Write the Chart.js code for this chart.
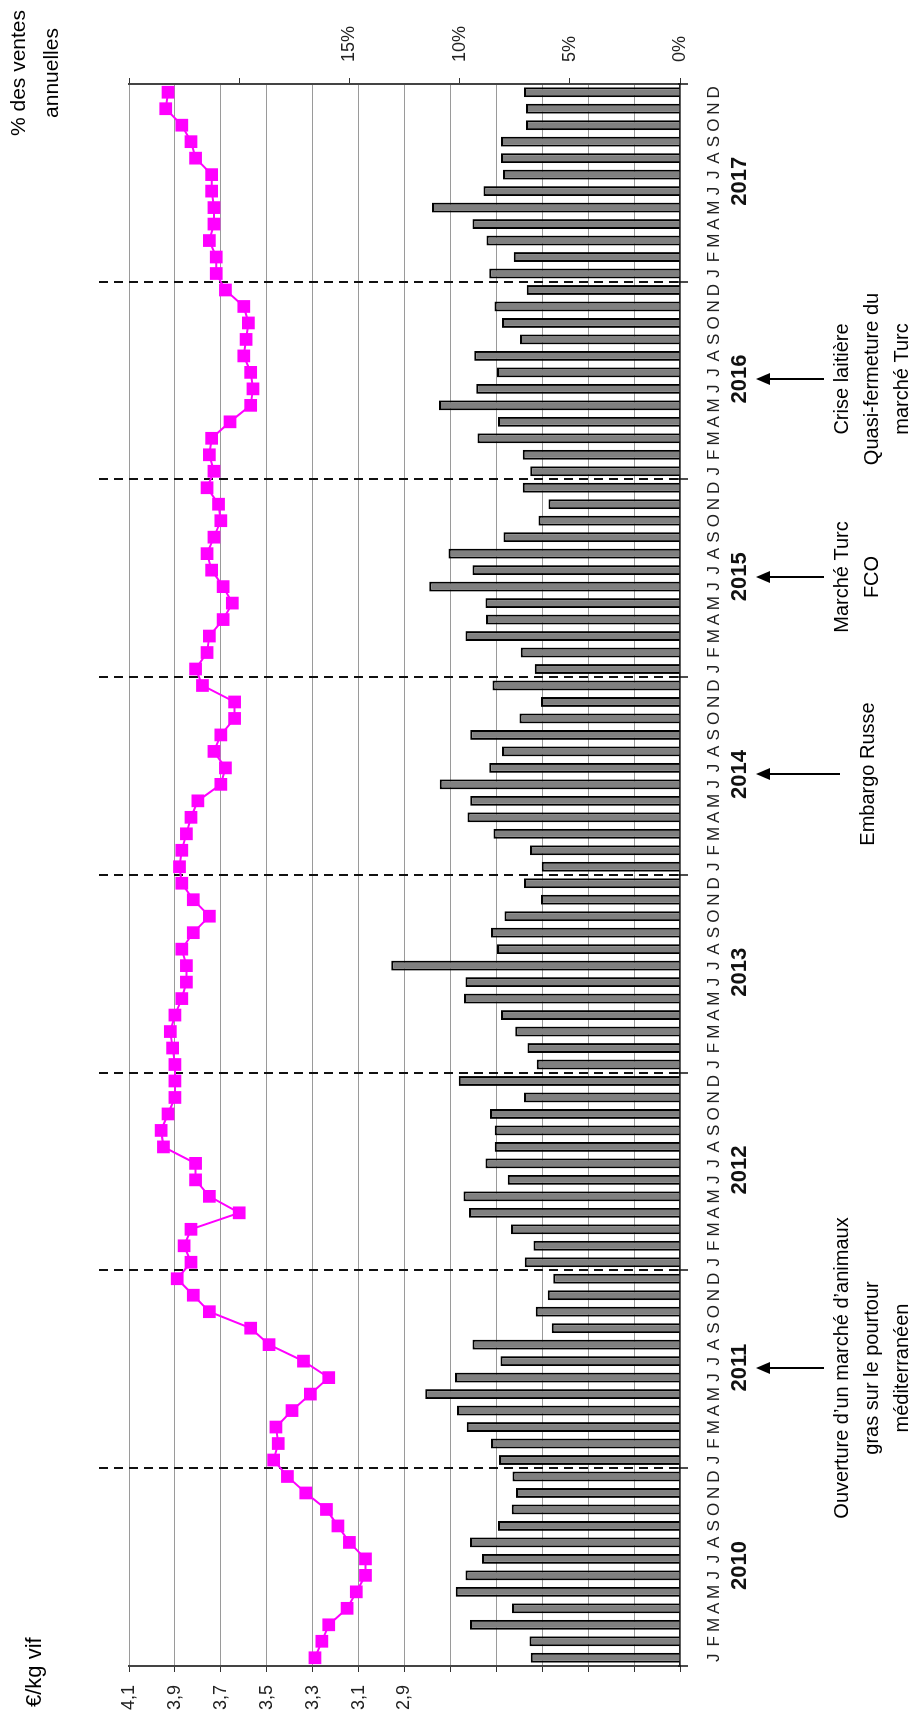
<!DOCTYPE html>
<html>
<head>
<meta charset="utf-8">
<script src="https://cdn.jsdelivr.net/npm/chart.js@4.4.1/dist/chart.umd.min.js"></script>
<style>
html, body { margin: 0; padding: 0; background: #fff; overflow: hidden; }
#wrap { position: absolute; left: 0; top: 0; width: 1713px; height: 917px;
        transform-origin: 0 0; transform: translate(0, 1713px) rotate(-90deg); }
</style>
</head>
<body>
<div id="wrap"><canvas id="myChart" width="1713" height="917"></canvas></div>
<script>
// mois et années
const mois = ['J','F','M','A','M','J','J','A','S','O','N','D'];
const annees = ['2010','2011','2012','2013','2014','2015','2016','2017'];
const labels = annees.flatMap(() => mois);

// prix €/kg vif
const prix = [
  3.29, 3.26, 3.23, 3.15, 3.11, 3.07, 3.07, 3.14, 3.19, 3.24, 3.33, 3.41,
  3.47, 3.45, 3.46, 3.39, 3.31, 3.23, 3.34, 3.49, 3.57, 3.75, 3.82, 3.89,
  3.83, 3.86, 3.83, 3.62, 3.75, 3.81, 3.81, 3.95, 3.96, 3.93, 3.90, 3.90,
  3.90, 3.91, 3.92, 3.90, 3.87, 3.85, 3.85, 3.87, 3.82, 3.75, 3.82, 3.87,
  3.88, 3.87, 3.85, 3.83, 3.80, 3.70, 3.68, 3.73, 3.70, 3.64, 3.64, 3.78,
  3.81, 3.76, 3.75, 3.69, 3.65, 3.69, 3.74, 3.76, 3.73, 3.70, 3.71, 3.76,
  3.73, 3.75, 3.74, 3.66, 3.57, 3.56, 3.57, 3.60, 3.59, 3.58, 3.60, 3.68,
  3.72, 3.72, 3.75, 3.73, 3.73, 3.74, 3.74, 3.81, 3.83, 3.87, 3.94, 3.93
];

// % des ventes annuelles
const ventes = [
  6.77, 6.83, 9.53, 7.62, 10.18, 9.73, 8.98, 9.53, 8.26, 7.63, 7.44, 7.60,
  8.21, 8.57, 9.68, 10.12, 11.56, 10.21, 8.14, 9.41, 5.82, 6.54, 6.00, 5.75,
  7.04, 6.65, 7.67, 9.57, 9.82, 7.81, 8.83, 8.40, 8.40, 8.62, 7.08, 10.04,
  6.50, 6.92, 7.47, 8.12, 9.80, 9.73, 13.10, 8.30, 8.57, 7.96, 6.31, 7.08,
  6.27, 6.81, 8.46, 9.64, 9.52, 10.90, 8.66, 8.08, 9.52, 7.28, 6.31, 8.51,
  6.59, 7.22, 9.73, 8.80, 8.83, 11.38, 9.41, 10.50, 8.01, 6.42, 5.97, 7.13,
  6.79, 7.13, 9.19, 8.26, 10.93, 9.25, 8.30, 9.34, 7.26, 8.08, 8.42, 6.95,
  8.66, 7.54, 8.78, 9.41, 11.25, 8.92, 8.03, 8.12, 8.12, 6.99, 6.99, 7.08
];

// événements (index de l'année, lignes de texte)
const evenements = [
  { annee: 1, lignes: ['Ouverture d\u2019un marché d\u2019animaux', 'gras sur le pourtour', 'méditerranéen'] },
  { annee: 4, lignes: ['Embargo Russe'], long: true },
  { annee: 5, lignes: ['Marché Turc', 'FCO'] },
  { annee: 6, lignes: ['Crise laitière', 'Quasi-fermeture du', 'marché Turc'] }
];

const police = "'Liberation Sans', Arial, sans-serif";
Chart.defaults.font.family = police;
Chart.defaults.color = '#222';

const decor = {
  id: 'decor',
  afterDatasetDraw(chart, args) {
    if (args.index !== 1) return;
    const ctx = chart.ctx, x = chart.scales.x, bas = chart.chartArea.bottom;
    ctx.save();
    ctx.strokeStyle = '#111';
    ctx.lineWidth = 2;
    ctx.setLineDash([9, 6]);
    for (let k = 1; k < annees.length; k++) {
      const px = Math.round(x.getPixelForValue(12 * k - 0.5));
      ctx.beginPath(); ctx.moveTo(px, 99); ctx.lineTo(px, bas); ctx.stroke();
    }
    ctx.restore();
  },
  afterDraw(chart) {
    const ctx = chart.ctx, x = chart.scales.x, bas = chart.chartArea.bottom;
    ctx.save();
    // petits repères d'année sur l'axe
    ctx.strokeStyle = '#111'; ctx.lineWidth = 1.5;
    for (let k = 0; k <= annees.length; k++) {
      const px = Math.round(x.getPixelForValue(12 * k - 0.5));
      ctx.beginPath(); ctx.moveTo(px, bas - 2); ctx.lineTo(px, bas + 8); ctx.stroke();
    }
    // années
    ctx.fillStyle = '#111';
    ctx.textAlign = 'center'; ctx.textBaseline = 'middle';
    ctx.font = 'bold 22px ' + police;
    annees.forEach((a, k) => ctx.fillText(a, x.getPixelForValue(12 * k + 5.6), 740));
    // flèches et textes
    ctx.lineWidth = 2; ctx.strokeStyle = '#000'; ctx.fillStyle = '#000';
    ctx.font = '20px ' + police;
    evenements.forEach(ev => {
      const px = Math.round(x.getPixelForValue(12 * ev.annee + 5.6));
      const fin = ev.long ? 840 : 824;
      ctx.beginPath(); ctx.moveTo(px, fin); ctx.lineTo(px, 765); ctx.stroke();
      ctx.beginPath(); ctx.moveTo(px, 756); ctx.lineTo(px - 6, 770); ctx.lineTo(px + 6, 770); ctx.closePath(); ctx.fill();
      const y0 = ev.long ? 868 : 842;
      ev.lignes.forEach((l, i) => ctx.fillText(l, px, y0 + i * 30));
    });
    // titres d'axes
    ctx.font = '22px ' + police;
    ctx.textAlign = 'left';
    ctx.fillText('€/kg vif', 6, 35);
    ctx.font = '21px ' + police;
    ctx.textAlign = 'center';
    ctx.fillText('% des ventes', 1640, 19);
    ctx.fillText('annuelles', 1640, 52);
    ctx.restore();
  }
};

const ctx = document.getElementById('myChart').getContext('2d');
const myChart = new Chart(ctx, {
  data: {
    labels: labels,
    datasets: [{
      type: 'line',
      label: 'Prix',
      data: prix,
      yAxisID: 'y',
      borderColor: '#FF00FF',
      borderWidth: 2,
      pointStyle: 'rect',
      pointRadius: 9,
      pointBackgroundColor: '#FF00FF',
      pointBorderWidth: 0,
      order: 0
    }, {
      type: 'bar',
      label: 'Ventes',
      data: ventes,
      yAxisID: 'y2',
      backgroundColor: '#808080',
      borderColor: '#000',
      borderWidth: 2,
      barPercentage: 0.6,
      categoryPercentage: 1,
      order: 1
    }]
  },
  options: {
    responsive: false,
    animation: false,
    layout: { padding: { top: 129, left: 0, right: 0, bottom: 0 } },
    plugins: { legend: { display: false }, tooltip: { enabled: false } },
    scales: {
      x: {
        offset: true,
        grid: { display: false },
        border: { display: true, color: '#222', width: 1.5 },
        ticks: { autoSkip: false, maxRotation: 0, minRotation: 0, padding: 16,
                 font: { size: 17 }, color: '#222' },
        afterFit: s => { s.height = 237; }
      },
      y: {
        position: 'left',
        min: 1.7, max: 4.1,
        ticks: { stepSize: 0.2, padding: 13, font: { size: 18 }, color: '#222',
                 callback: v => v > 2.89 ? v.toFixed(1).replace('.', ',') : '' },
        grid: { color: '#9a9a9a', lineWidth: 1, tickLength: 6, tickColor: '#333' },
        border: { color: '#444', width: 2 },
        afterFit: s => { s.width = 47; }
      },
      y2: {
        position: 'right',
        min: 0, max: 25,
        ticks: { stepSize: 5, padding: 16, font: { size: 18 }, color: '#222',
                 callback: v => v <= 15 ? v + '%' : '' },
        grid: { drawOnChartArea: false, tickLength: 6, tickColor: '#333' },
        border: { color: '#444', width: 2 },
        afterFit: s => { s.width = 84; }
      }
    }
  },
  plugins: [decor]
});
</script>
</body>
</html>
